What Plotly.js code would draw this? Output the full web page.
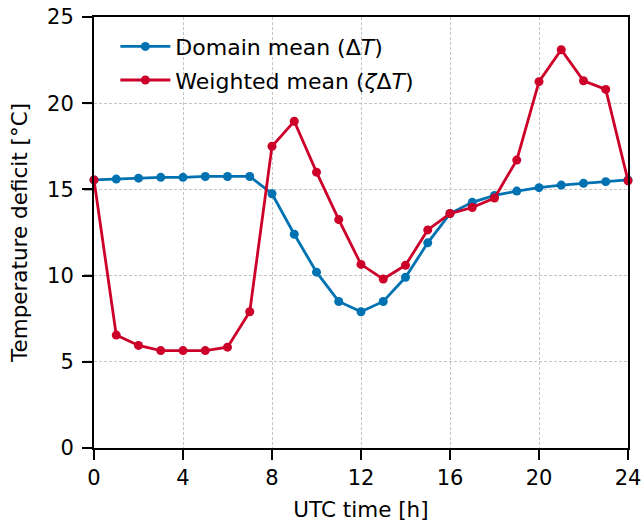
<!DOCTYPE html>
<html><head><meta charset="utf-8">
<script src="https://cdn.plot.ly/plotly-3.0.1.min.js"></script>
<style>html,body{margin:0;padding:0;background:#fff}</style>
</head><body><div id="chart" style="width:643px;height:522px"></div>
<script>
const hours = [0,1,2,3,4,5,6,7,8,9,10,11,12,13,14,15,16,17,18,19,20,21,22,23,24];
const domainMean = [15.55,15.6,15.65,15.7,15.7,15.75,15.75,15.75,14.75,12.4,10.2,8.5,7.9,8.5,9.9,11.9,13.6,14.25,14.65,14.9,15.1,15.25,15.35,15.45,15.55];
const weightedMean = [15.55,6.55,5.95,5.65,5.65,5.65,5.85,7.9,17.5,18.95,16.0,13.25,10.65,9.8,10.6,12.65,13.6,13.95,14.5,16.7,21.25,23.1,21.3,20.8,15.5];
const xTicks = [0,4,8,12,16,20,24];
const yTicks = [0,5,10,15,20,25];
const names = ["Domain mean (Δ<i>T</i>)", "Weighted mean (<i>ζ</i>Δ<i>T</i>)"];
const colors = ["#0072B2", "#CC0029"];

const traces = [domainMean, weightedMean].map((v,i)=>({
  x: hours, y: v, type: 'scatter', mode: 'lines+markers', name: names[i],
  legendgroup: 'g'+i,
  line: {color: colors[i], width: 2.8},
  marker: {color: colors[i], size: 9},
  cliponaxis: false
}));

// tick marks drawn through the axes' own scales (data coords along the axis)
const tickShapes = xTicks.map(v => ({
  type: 'line', xref: 'x', yref: 'paper', ysizemode: 'pixel', yanchor: 0,
  x0: v, x1: v, y0: 0, y1: -10, line: {color: 'black', width: 1.8}, layer: 'above'
})).concat(yTicks.map(v => ({
  type: 'line', yref: 'y', xref: 'paper', xsizemode: 'pixel', xanchor: 0,
  y0: v, y1: v, x0: 0, x1: -10, line: {color: 'black', width: 1.8}, layer: 'above'
})));

const tickFont = {family: 'DejaVu Sans', size: 21, color: '#000'};
const labFont = {family: 'DejaVu Sans', size: 21.5, color: '#000'};
const legFont = {family: 'DejaVu Sans', size: 22, color: '#000'};
const layout = {
  width: 643, height: 522,
  margin: {l: 94, r: 15, t: 17, b: 74},
  paper_bgcolor: '#fff', plot_bgcolor: '#fff',
  font: tickFont,
  showlegend: true,
  shapes: tickShapes,
  legend: {x: 0.04, y: 0.98, xanchor: 'left', yanchor: 'top', bgcolor: 'rgba(0,0,0,0)',
           font: legFont, tracegroupgap: 2, itemwidth: 50},
  xaxis: {range: [0,24], tickmode: 'array', tickvals: xTicks, ticktext: xTicks.map(String),
          ticks: 'outside', ticklen: 10, tickwidth: 2, tickcolor: 'black', ticklabelstandoff: 0,
          showline: true, linecolor: 'black', linewidth: 2, mirror: true,
          showgrid: true, gridcolor: '#c4c4c4', griddash: '3px,2px', gridwidth: 0.8,
          zeroline: false, tickfont: tickFont,
          title: {text: 'UTC time [h]', font: labFont, standoff: 14}},
  yaxis: {range: [0,25], tickmode: 'array', tickvals: yTicks, ticktext: yTicks.map(String),
          ticks: 'outside', ticklen: 10, tickwidth: 2, tickcolor: 'black', ticklabelstandoff: 4,
          showline: true, linecolor: 'black', linewidth: 2, mirror: true,
          showgrid: true, gridcolor: '#c4c4c4', griddash: '3px,2px', gridwidth: 0.8,
          zeroline: false, tickfont: tickFont,
          title: {text: 'Temperature deficit [°C]', font: labFont, standoff: 14}}
};
Plotly.newPlot('chart', traces, layout, {displayModeBar: false});
</script></body></html>
